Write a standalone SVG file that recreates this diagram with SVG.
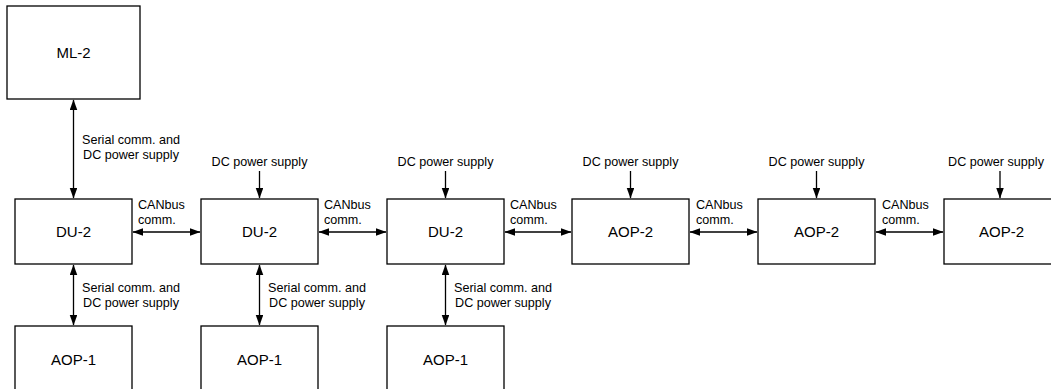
<svg xmlns="http://www.w3.org/2000/svg" width="1051" height="389" viewBox="0 0 1051 389">
<defs>
<marker id="ah" markerUnits="userSpaceOnUse" markerWidth="11" markerHeight="8" refX="10" refY="3.75" orient="auto-start-reverse">
<path d="M0,0 L10.5,3.75 L0,7.5 z" fill="#000"/>
</marker>
<style>
.box{fill:#fff;stroke:#000;stroke-width:1.3}
.bl{font-family:"Liberation Sans",Arial,sans-serif;font-size:15px;fill:#000;text-anchor:middle}
.lb{font-family:"Liberation Sans",Arial,sans-serif;font-size:12.6px;fill:#000}
.mid{text-anchor:middle}
.c{fill:none;stroke:#000;stroke-width:1.3}
.b{marker-start:url(#ah);marker-end:url(#ah)}
.e{marker-end:url(#ah)}
</style>
</defs>
<rect width="1051" height="389" fill="#fff"/>
<g id="connectors">
<line class="c b" x1="73.5" y1="100" x2="73.5" y2="198"/>
<line class="c b" x1="73.5" y1="265" x2="73.5" y2="325"/>
<line class="c b" x1="259.5" y1="265" x2="259.5" y2="325"/>
<line class="c b" x1="445.5" y1="265" x2="445.5" y2="325"/>
<line class="c e" x1="259.5" y1="171" x2="259.5" y2="198"/>
<line class="c e" x1="445.5" y1="171" x2="445.5" y2="198"/>
<line class="c e" x1="630.5" y1="171" x2="630.5" y2="198"/>
<line class="c e" x1="816.5" y1="171" x2="816.5" y2="198"/>
<line class="c e" x1="1000" y1="171" x2="1000" y2="198"/>
<line class="c b" x1="133" y1="232" x2="200" y2="232"/>
<line class="c b" x1="319" y1="232" x2="386" y2="232"/>
<line class="c b" x1="505" y1="232" x2="571" y2="232"/>
<line class="c b" x1="690" y1="232" x2="757" y2="232"/>
<line class="c b" x1="876" y1="232" x2="943" y2="232"/>
<g class="lb mid">
<text x="131" y="144">Serial comm. and</text>
<text x="131" y="159">DC power supply</text>
<text x="131" y="292">Serial comm. and</text>
<text x="131" y="307">DC power supply</text>
<text x="317" y="292">Serial comm. and</text>
<text x="317" y="307">DC power supply</text>
<text x="503" y="292">Serial comm. and</text>
<text x="503" y="307">DC power supply</text>
<text x="259.5" y="166">DC power supply</text>
<text x="445.5" y="166">DC power supply</text>
<text x="630.5" y="166">DC power supply</text>
<text x="816.5" y="166">DC power supply</text>
<text x="996" y="166">DC power supply</text>
</g>
<g class="lb">
<text x="138" y="209">CANbus</text><text x="138" y="224">comm.</text>
<text x="324" y="209">CANbus</text><text x="324" y="224">comm.</text>
<text x="510" y="209">CANbus</text><text x="510" y="224">comm.</text>
<text x="696" y="209">CANbus</text><text x="696" y="224">comm.</text>
<text x="882" y="209">CANbus</text><text x="882" y="224">comm.</text>
</g>
</g>
<g id="ml2"><rect class="box" x="7" y="6" width="133" height="93"/><text class="bl" x="73.5" y="58">ML-2</text></g>
<g id="du2a"><rect class="box" x="15" y="199" width="117" height="65"/><text class="bl" x="73.5" y="237">DU-2</text></g>
<g id="du2b"><rect class="box" x="201" y="199" width="117" height="65"/><text class="bl" x="259.5" y="237">DU-2</text></g>
<g id="du2c"><rect class="box" x="387" y="199" width="117" height="65"/><text class="bl" x="445.5" y="237">DU-2</text></g>
<g id="aop2a"><rect class="box" x="572" y="199" width="117" height="65"/><text class="bl" x="630.5" y="237">AOP-2</text></g>
<g id="aop2b"><rect class="box" x="758" y="199" width="117" height="65"/><text class="bl" x="816.5" y="237">AOP-2</text></g>
<g id="aop2c"><rect class="box" x="944" y="199" width="117" height="65"/><text class="bl" x="1001.5" y="237">AOP-2</text></g>
<g id="aop1a"><rect class="box" x="15" y="326" width="117" height="66"/><text class="bl" x="73.5" y="365">AOP-1</text></g>
<g id="aop1b"><rect class="box" x="201" y="326" width="117" height="66"/><text class="bl" x="259.5" y="365">AOP-1</text></g>
<g id="aop1c"><rect class="box" x="387" y="326" width="117" height="66"/><text class="bl" x="445.5" y="365">AOP-1</text></g>
</svg>
